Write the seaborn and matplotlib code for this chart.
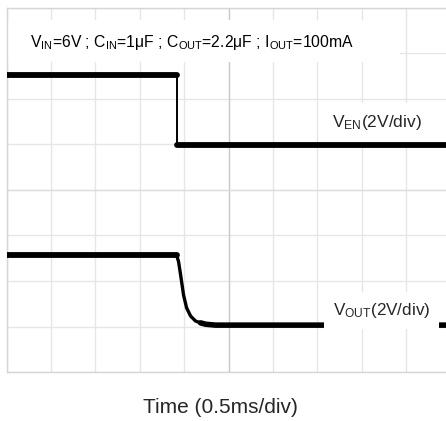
"""Load-switch turn-off waveform (scope capture style): V_EN and V_OUT vs time."""
import numpy as np
import pandas as pd
import matplotlib
matplotlib.use("Agg")
import matplotlib.pyplot as plt
from matplotlib.patches import Rectangle
import seaborn as sns

# time in ms, amplitudes in screen divisions (2 V/div)
en_t = [-2.5, -0.585, -0.585, 2.6]
en_v = [2.53, 2.53, 0.99, 0.99]

vout_t = [-2.5, -0.584, -0.562, -0.539, -0.506, -0.472, -0.427, -0.371,
          -0.315, -0.258, -0.146, 2.6]
vout_v = [-1.43, -1.43, -1.58, -1.87, -2.31, -2.59, -2.77, -2.88,
          -2.92, -2.95, -2.97, -2.97]

en = pd.DataFrame({"t": en_t, "v": en_v})
vout = pd.DataFrame({"t": vout_t, "v": vout_v})

sns.set_theme(style="white")
plt.rcParams["font.family"] = ["Liberation Sans", "DejaVu Sans"]
plt.rcParams["mathtext.fontset"] = "custom"
plt.rcParams["mathtext.rm"] = "Liberation Sans"
plt.rcParams["mathtext.it"] = "Liberation Sans"

fig = plt.figure(figsize=(4.46, 4.21), dpi=100)
ax = fig.add_axes([6.5 / 446, 1 - 372 / 421, 444 / 446, 364 / 421])

# graticule
ax.set_xlim(-2.5, 2.5)
ax.set_ylim(-4, 4)
ax.set_xticks(np.arange(-2.5, 2.51, 0.5))
ax.set_yticks(np.arange(-4, 4.1, 1))
ax.set_xticklabels([])
ax.set_yticklabels([])
ax.tick_params(length=0)
ax.grid(True, color="#e6e6e6", lw=1.0)
ax.axvline(0, color="#c8c8c8", lw=0.9, zorder=1)
ax.axhline(0, color="#dcdcdc", lw=0.9, zorder=1)
for s in ax.spines.values():
    s.set_color("#d6d6d6")
    s.set_linewidth(1.0)

# white band behind the conditions line
ax.add_patch(Rectangle((0.0, (372 - 62) / 364), (400 - 6.5) / 444, 42 / 364,
                       transform=ax.transAxes, facecolor="white",
                       edgecolor="none", zorder=2))

# traces: thin edges, thick flat parts
kw = dict(color="black", estimator=None, sort=False, ax=ax, zorder=3)
sns.lineplot(data=en, x="t", y="v", lw=1.4, **kw)
sns.lineplot(data=en.iloc[0:2], x="t", y="v", lw=4.2, **kw)
sns.lineplot(data=en.iloc[2:4], x="t", y="v", lw=4.2, **kw)
sns.lineplot(data=vout, x="t", y="v", lw=2.4, **kw)
sns.lineplot(data=vout.iloc[0:2], x="t", y="v", lw=4.2, **kw)
sns.lineplot(data=vout.iloc[8:], x="t", y="v", lw=4.0, **kw)
ax.set_xlabel("")
ax.set_ylabel("")

ax.text((30 - 6.5) / 444, (372 - 47) / 364,
        r"$\mathrm{V_{IN}}$=6V ; $\mathrm{C_{IN}}$=1μF ; "
        r"$\mathrm{C_{OUT}}$=2.2μF ; $\mathrm{I_{OUT}}$=100mA",
        transform=ax.transAxes, fontsize=11.3, va="baseline", ha="left",
        color="black", zorder=5)
ax.text((332 - 6.5) / 444, (372 - 127) / 364, r"$\mathrm{V_{EN}}$(2V/div)",
        transform=ax.transAxes, fontsize=12.5, va="baseline", ha="left",
        zorder=5, bbox=dict(boxstyle="square,pad=0.6", fc="white", ec="none"))
ax.text((333 - 6.5) / 444, (372 - 315) / 364, r"$\mathrm{V_{OUT}}$(2V/div)",
        transform=ax.transAxes, fontsize=12.3, va="baseline", ha="left",
        zorder=5, bbox=dict(boxstyle="square,pad=0.5", fc="white", ec="none"))

fig.text(220.5 / 446, 1 - 413 / 421, "Time (0.5ms/div)", fontsize=15,
         ha="center", va="baseline")

fig.savefig("out.png", dpi=100, facecolor="white")
print("Saved: out.png")
